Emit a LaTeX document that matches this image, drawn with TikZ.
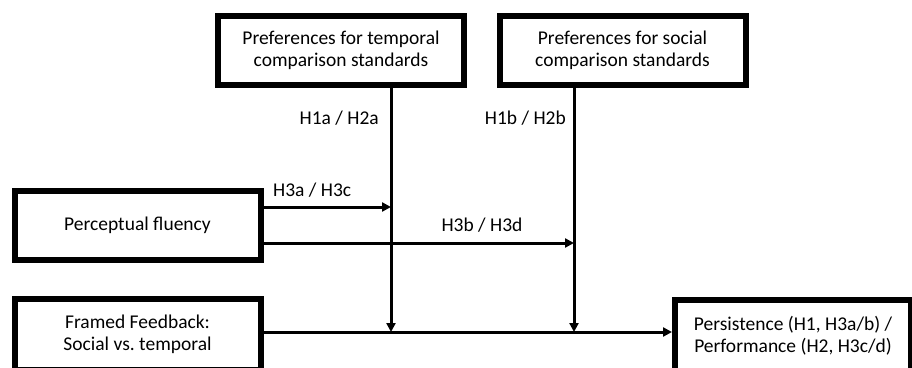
\documentclass[tikz,border=0pt]{standalone}
\usepackage{fontspec}
\setmainfont{Carlito}
\usetikzlibrary{arrows.meta}

\begin{document}
\begin{tikzpicture}
	[
	x=1pt, y=-1pt,
	font=\fontsize{19.5}{22.5}\selectfont,
	align=center,
	box/.style={draw, line width=6pt, minimum width=246pt, minimum height=69pt, inner sep=0pt},
	lbl/.style={inner sep=0pt},
	arr/.style={line width=3pt, -{Triangle[length=9pt,width=9pt]}},
	]
		\useasboundingbox (0,0) rectangle (912,367);
		
		% moderators
		\node[box] (tp) at 		( 341.0,  50.5 ) {Preferences for temporal\\comparison standards};
		\node[box] (sp) at 		( 622.5,  50.5 ) {Preferences for social\\comparison standards};
		
		% fluency
		\node[box] (pf) at 		( 137.5, 225.5 ) {Perceptual fluency};
		
		% feedback and outcome
		\node[box, minimum height=71pt] (ff) at 		( 137.5, 334.5 ) {Framed Feedback:\\Social vs.\ temporal};
		\node[box, minimum height=71pt, minimum width=236pt] (ps) at 		( 793.0, 335.5 ) {Persistence (H1, H3a/b) /\\Performance (H2, H3c/d)};
		
		% junctions
		\coordinate (t1) at 		( 391.0, 207.0 );
		\coordinate (t2) at 		( 391.0, 332.0 );
		\coordinate (s1) at 		( 574.0, 243.0 );
		\coordinate (s2) at 		( 574.0, 332.0 );
		
		% labels
		\node[lbl, anchor=east] (la) at 		( 379.0, 118.0 ) {H1a / H2a};
		\node[lbl, anchor=east] (lb) at 		( 566.0, 118.0 ) {H1b / H2b};
		\node[lbl, anchor=west] (lc) at 		( 273.0, 190.0 ) {H3a / H3c};
		\node[lbl] (ld) at 		( 482.0, 225.0 ) {H3b / H3d};
		
		\draw[arr] (ff.east |- t2) -- (ps.west |- t2);
		\foreach \j in {t,s} \draw[arr] (\j p.south -| \j 2) -- (\j 2);
		\foreach \j in {t1,s1} \draw[arr] (pf.east |- \j) -- (\j);
		
	\end{tikzpicture}
\end{document}
